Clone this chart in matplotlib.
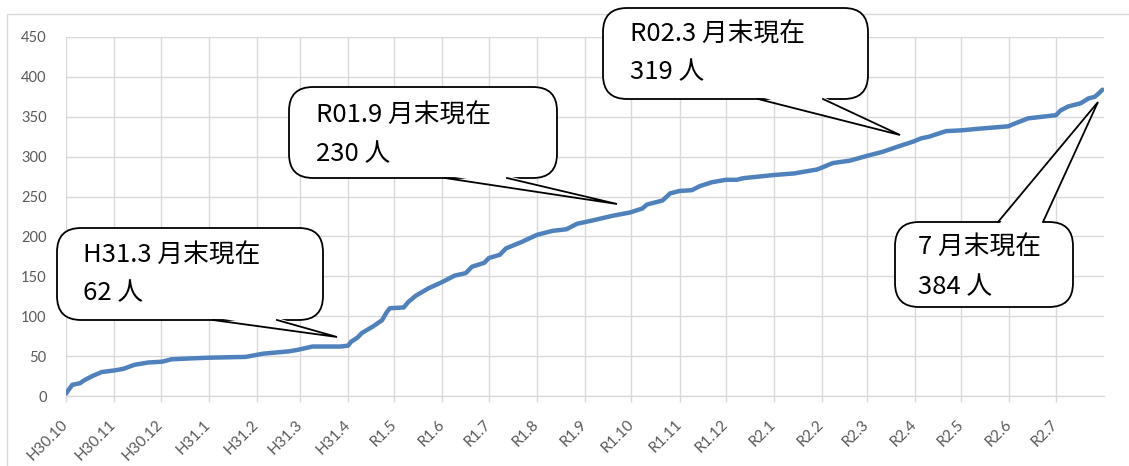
import matplotlib
matplotlib.use('Agg')
import matplotlib.pyplot as plt
from matplotlib.patches import FancyBboxPatch, Polygon, Rectangle
import pandas as pd

# ---------------- data ----------------
dates = ["2018-10-01", "2018-10-05", "2018-10-10", "2018-10-13", "2018-10-18", "2018-10-24",
         "2018-11-01", "2018-11-07", "2018-11-14", "2018-11-23", "2018-12-02", "2018-12-08",
         "2018-12-19", "2019-01-01", "2019-01-25", "2019-02-05", "2019-02-22", "2019-02-28",
         "2019-03-09", "2019-03-27", "2019-04-01", "2019-04-03", "2019-04-07", "2019-04-10",
         "2019-04-17", "2019-04-23", "2019-04-26", "2019-04-28", "2019-05-07", "2019-05-10",
         "2019-05-15", "2019-05-23", "2019-06-01", "2019-06-09", "2019-06-16", "2019-06-20",
         "2019-06-28", "2019-07-01", "2019-07-08", "2019-07-12", "2019-07-22", "2019-08-01",
         "2019-08-11", "2019-08-20", "2019-08-27", "2019-09-01", "2019-09-08", "2019-09-19",
         "2019-09-30", "2019-10-08", "2019-10-11", "2019-10-21", "2019-10-26", "2019-11-01",
         "2019-11-09", "2019-11-14", "2019-11-22", "2019-12-01", "2019-12-08", "2019-12-12",
         "2020-01-01", "2020-01-14", "2020-01-29", "2020-02-08", "2020-02-19", "2020-03-01",
         "2020-03-11", "2020-03-20", "2020-03-31", "2020-04-05", "2020-04-10", "2020-04-21",
         "2020-05-01", "2020-05-12", "2020-05-31", "2020-06-05", "2020-06-13", "2020-07-01",
         "2020-07-04", "2020-07-09", "2020-07-17", "2020-07-22", "2020-07-26", "2020-07-29",
         "2020-07-31"]
counts = [3, 14, 16, 20, 25, 30,
          32, 34, 39, 42, 43, 46,
          47, 48, 49, 53, 56, 58,
          62, 62, 63, 68, 73, 79,
          87, 95, 105, 110, 111, 118,
          126, 135, 143, 151, 154, 162,
          167, 173, 177, 185, 193, 202,
          207, 209, 216, 218, 221, 226,
          230, 235, 240, 245, 254, 257,
          258, 263, 268, 271, 271, 273,
          277, 279, 284, 292, 295, 301,
          306, 312, 319, 323, 325, 332,
          333, 335, 338, 342, 348, 352,
          358, 363, 367, 373, 375, 380,
          384]

month_ticks = ["2018-10-01", "2018-11-01", "2018-12-01", "2019-01-01", "2019-02-01", "2019-03-01",
               "2019-04-01", "2019-05-01", "2019-06-01", "2019-07-01", "2019-08-01", "2019-09-01",
               "2019-10-01", "2019-11-01", "2019-12-01", "2020-01-01", "2020-02-01", "2020-03-01",
               "2020-04-01", "2020-05-01", "2020-06-01", "2020-07-01"]
tick_labels = ["H30.10", "H30.11", "H30.12", "H31.1", "H31.2", "H31.3", "H31.4", "R1.5", "R1.6",
               "R1.7", "R1.8", "R1.9", "R1.10", "R1.11", "R1.12", "R2.1", "R2.2", "R2.3", "R2.4",
               "R2.5", "R2.6", "R2.7"]
y_ticks = [0, 50, 100, 150, 200, 250, 300, 350, 400, 450]

callout_texts = [("H31.3 月末現在", "62 人"),
                 ("R01.9 月末現在", "230 人"),
                 ("R02.3 月末現在", "319 人"),
                 ("7 月末現在", "384 人")]

# ---------------- layout (pixels, origin top-left) ----------------
W, H = 1129, 466
callout_layout = [
    dict(box=(57, 323, 228, 320), base=(213, 277), side="bottom", tip=(337, 337), tx=83, ly=(256, 293)),
    dict(box=(289, 557, 87, 178), base=(445, 507), side="bottom", tip=(617, 204), tx=316, ly=(116, 154)),
    dict(box=(603, 868, 8, 99), base=(758, 823), side="bottom", tip=(900, 135), tx=630, ly=(35, 72)),
    dict(box=(895, 1073, 222, 307), base=(998, 1043), side="top", tip=(1098, 102), tx=918, ly=(248, 287)),
]

GRID = "#d9d9d9"
LABEL = "#595959"
LINE = "#4F81BD"

fig = plt.figure(figsize=(W / 100, H / 100), dpi=100)
fig.patch.set_facecolor("white")

ax_left, ax_right, ax_top, ax_bot = 66, 1104, 37, 396
ax = fig.add_axes([ax_left / W, 1 - ax_bot / H, (ax_right - ax_left) / W, (ax_bot - ax_top) / H])

x = pd.to_datetime(dates)
ax.plot(x, counts, color=LINE, lw=3.2, solid_capstyle="round", solid_joinstyle="round", zorder=3)

ax.set_xlim(pd.Timestamp("2018-10-01"), pd.Timestamp("2020-08-01"))
ax.set_ylim(0, 450)
ax.set_yticks(y_ticks)
ax.set_xticks(pd.to_datetime(month_ticks))
ax.set_xticklabels(tick_labels)

for s in ["top", "right", "left"]:
    ax.spines[s].set_visible(False)
ax.spines["bottom"].set_color(GRID)
ax.spines["bottom"].set_linewidth(1.0)

ax.grid(True, color=GRID, lw=1.0, zorder=0)
ax.set_axisbelow(True)

ax.tick_params(axis="y", length=0, pad=14, labelsize=10.5, labelcolor=LABEL)
ax.tick_params(axis="x", length=4, width=1.0, color=GRID, pad=15, labelsize=11, labelcolor=LABEL)
for lab in ax.get_xticklabels():
    lab.set_rotation(45)
    lab.set_ha("right")
    lab.set_va("center")
    lab.set_rotation_mode("anchor")
for lab in ax.get_xticklabels() + ax.get_yticklabels():
    lab.set_fontfamily(["Lato", "DejaVu Sans"])

# ---------------- overlay for callouts ----------------
ov = fig.add_axes([0, 0, 1, 1])
ov.set_xlim(0, W)
ov.set_ylim(H, 0)
ov.axis("off")
ov.patch.set_alpha(0)

ov.add_patch(Rectangle((7, 13.5), W + 20, H + 20, fill=False, edgecolor=GRID, lw=1.0, clip_on=False))

for (l1, l2), c in zip(callout_texts, callout_layout):
    x0, x1, y0, y1 = c["box"]
    box = FancyBboxPatch((x0, y0), x1 - x0, y1 - y0,
                         boxstyle="round,pad=0,rounding_size=24",
                         facecolor="white", edgecolor="black", lw=1.3, zorder=5)
    ov.add_patch(box)
    a, b = c["base"]
    tx_, ty_ = c["tip"]
    if c["side"] == "bottom":
        by = y1
        inner = by - 2.5
    else:
        by = y0
        inner = by + 2.5
    ov.add_patch(Polygon([(a + 0.8, inner), (b - 0.8, inner), (tx_, ty_)], closed=True,
                         facecolor="white", edgecolor="none", zorder=6))
    ov.plot([a, tx_, b], [by, ty_, by], color="black", lw=1.3, zorder=7,
            solid_joinstyle="miter")
    for txt, yy in zip((l1, l2), c["ly"]):
        ov.text(c["tx"], yy, txt, fontsize=18.5, color="black", ha="left", va="center",
                family=["Noto Sans CJK JP", "DejaVu Sans"], zorder=8)

fig.savefig("out.png", dpi=100)
